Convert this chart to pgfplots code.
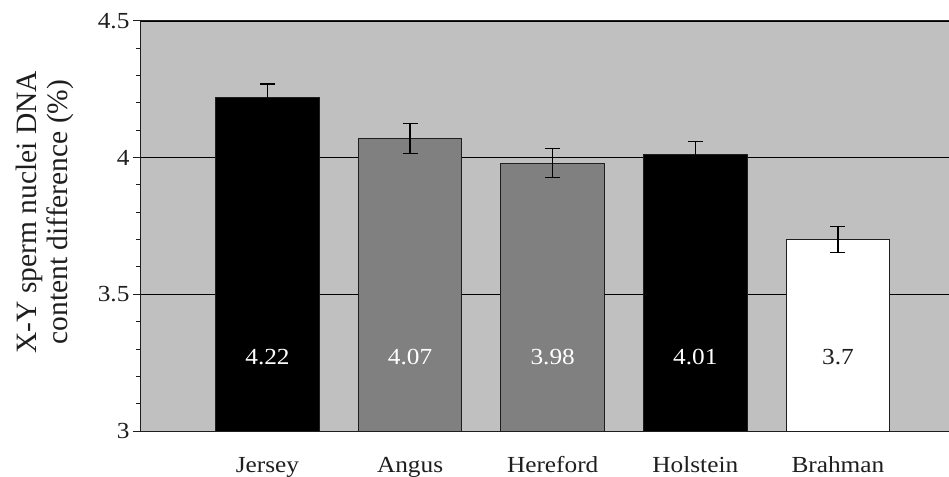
\documentclass[border=0pt]{standalone}
\usepackage{pgfplots}
\pgfplotsset{compat=1.18}
\usepackage{fontspec}
\setmainfont{Liberation Serif}
\newfontfamily\wide[FakeStretch=1.1]{Liberation Serif}
\definecolor{bg}{RGB}{192,192,192}
\definecolor{midgray}{RGB}{128,128,128}
\definecolor{ink}{RGB}{30,30,30}
\begin{document}
\begin{tikzpicture}
\useasboundingbox (-141pt,-45pt) rectangle (808pt,431pt);
\begin{axis}[
  at={(0,0)}, anchor=south west,
  scale only axis, width=812pt, height=410pt,
  xmin=-0.887, xmax=4.807, ymin=3, ymax=4.5,
  axis background/.style={fill=bg},
  xtick={0,1,2,3,4},
  xticklabels={Jersey,Angus,Hereford,Holstein,Brahman},
  major x tick style={draw=none},
  xtick pos=bottom, ytick pos=left,
  ytick={3,3.5,4,4.5},
  minor y tick num=4,
  tick align=outside,
  major tick length=8pt, minor tick length=5pt,
  ymajorgrids, grid style={black, line width=0.8pt},
  axis line style={ink, line width=1pt},
  tick style={ink, line width=1pt},
  /pgf/number format/assume math mode=true,
  tick label style={font=\wide\fontsize{23}{26}\selectfont, text=ink},
  xticklabel style={anchor=base, yshift=-33pt},
  ylabel={X-Y sperm nuclei DNA\\content difference (\%)},
  every axis y label/.style={at={(axis description cs:-0.1182,0.534)}, rotate=90, anchor=center, align=center, font=\fontsize{29.5}{31}\selectfont, text=ink},
  error bars/error bar style={black, line width=1.3pt},
]
\addplot[ybar, bar width=0.726, bar shift=0pt, fill=black, draw=ink, line width=1pt,
  error bars/.cd, y dir=both, y explicit, error mark options={black, rotate=90, mark size=7.5pt, line width=1.3pt}]
  coordinates {(0,4.22) +- (0,0.05) (3,4.01) +- (0,0.05)};
\addplot[ybar, bar width=0.726, bar shift=0pt, fill=midgray, draw=ink, line width=1pt,
  error bars/.cd, y dir=both, y explicit, error mark options={black, rotate=90, mark size=7.5pt, line width=1.3pt}]
  coordinates {(1,4.07) +- (0,0.055) (2,3.98) +- (0,0.053)};
\addplot[ybar, bar width=0.726, bar shift=0pt, fill=white, draw=ink, line width=1pt,
  error bars/.cd, y dir=both, y explicit, error mark options={black, rotate=90, mark size=7.5pt, line width=1.3pt}]
  coordinates {(4,3.70) +- (0,0.048)};
\addplot[draw=none, nodes near coords, point meta=explicit symbolic,
  every node near coord/.append style={anchor=center, text=white, font=\wide\fontsize{23}{26}\selectfont}]
  table[meta=lbl] {
x y lbl
0 3.27 4.22
1 3.27 4.07
2 3.27 3.98
3 3.27 4.01
};
\addplot[draw=none, nodes near coords, point meta=explicit symbolic,
  every node near coord/.append style={anchor=center, text=ink, font=\wide\fontsize{23}{26}\selectfont}]
  table[meta=lbl] {
x y lbl
4 3.27 3.7
};
\end{axis}
\end{tikzpicture}
\end{document}
